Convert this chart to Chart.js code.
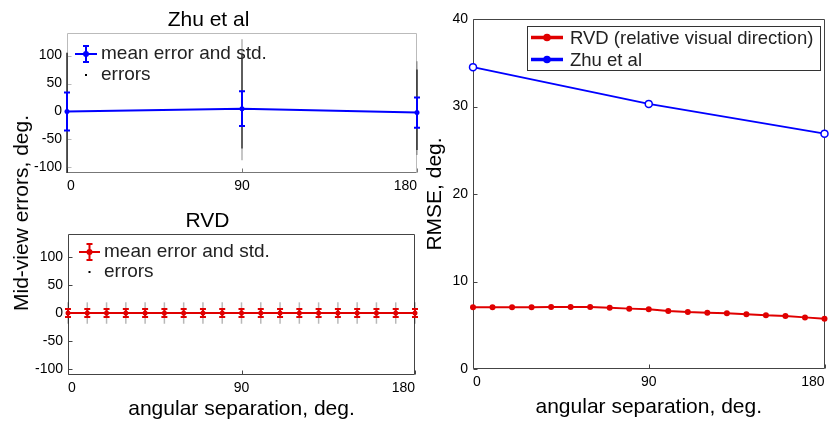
<!DOCTYPE html>
<html><head><meta charset="utf-8">
<script src="https://cdn.jsdelivr.net/npm/chart.js@4"></script>
<style>
html,body{margin:0;padding:0;background:#fff;width:830px;height:425px;overflow:hidden;position:relative;}
canvas{position:absolute;}
#ylab{position:absolute;left:21px;top:213px;transform:translate(-50%,-50%) rotate(-90deg);font:21px "Liberation Sans",Arial,sans-serif;white-space:nowrap;color:#000;}
</style></head><body>
<canvas id="c1" width="430" height="200" style="left:0;top:0"></canvas>
<canvas id="c2" width="430" height="225" style="left:0;top:200px"></canvas>
<canvas id="c3" width="410" height="425" style="left:420px;top:0"></canvas>
<div id="ylab">Mid-view errors, deg.</div>
<script>
// ---- tick labels ----
const errTicks = [-100, -50, 0, 50, 100];
const angleTicks = [0, 90, 180];
const rmseTicks = [0, 10, 20, 30, 40];

// ---- texts ----
const zhuTitle = 'Zhu et al';
const rvdTitle = 'RVD';
const errLegend = ['mean error and std.', 'errors'];
const rmseLegend = ['RVD (relative visual direction)', 'Zhu et al'];
const xTitle = 'angular separation, deg.';
const rmseTitle = 'RMSE, deg.';

// ---- Zhu et al: mid-view errors ----
const zhuAngles = [0, 90, 180];
const zhuMeanErr = [0, 5, -2];
const zhuStdErr = [34, 31, 27];
const zhuErrLow = [-110, -87, -78];
const zhuErrHigh = [105, 129, 90];
const zhuErrCoreLow = [-110, -66, -69];
const zhuErrCoreHigh = [105, 102, 75];

// ---- RVD: mid-view errors ----
const rvdAngles = [0, 10, 20, 30, 40, 50, 60, 70, 80, 90, 100, 110, 120, 130, 140, 150, 160, 170, 180];
const rvdMeanErr = [0, 0, 0, 0, 0, 0, 0, 0, 0, 0, 0, 0, 0, 0, 0, 0, 0, 0, 0];
const rvdStdErr = [7, 7, 7, 7, 7, 7, 7, 7, 7, 7, 7, 7, 7, 7, 7, 7, 7, 7, 7];
const rvdErrLow = [-19, -19, -19, -19, -19, -19, -19, -19, -19, -19, -19, -19, -19, -19, -19, -19, -19, -19, -19];
const rvdErrHigh = [19, 19, 19, 19, 19, 19, 19, 19, 19, 19, 19, 19, 19, 19, 19, 19, 19, 19, 19];

// ---- RMSE ----
const zhuRmse = [34.5, 30.3, 26.9];
const rvdRmse = [7.05, 7.05, 7.05, 7.05, 7.09, 7.09, 7.09, 7.01, 6.9, 6.82, 6.63, 6.51, 6.44, 6.36, 6.25, 6.13, 6.06, 5.9, 5.75];

const BLUE = '#0000ff';
const RED = '#e00000';
const FONT = '"Liberation Sans", Arial, Helvetica, sans-serif';
Chart.defaults.font.family = FONT;
Chart.defaults.color = '#000';

function setTicks(list) { return s => { s.ticks = list.map(v => ({ value: v })); }; }

function drawBox(chart, colors) {
  const { ctx, chartArea: a } = chart;
  const L = Math.round(a.left) + 0.5, R = Math.round(a.right) - 0.5, T = Math.round(a.top) + 0.5, B = Math.round(a.bottom) - 0.5;
  ctx.save();
  ctx.lineWidth = 1;
  const seg = (x1, y1, x2, y2, c) => { ctx.strokeStyle = c; ctx.beginPath(); ctx.moveTo(x1, y1); ctx.lineTo(x2, y2); ctx.stroke(); };
  seg(L, T, R, T, colors.top);
  seg(R, T, R, B, colors.right);
  seg(L, B, R, B, colors.bottom);
  seg(L, T, L, B, colors.left);
  // inward ticks
  const x = chart.scales.x, y = chart.scales.y;
  x.ticks.forEach(t => { const px = Math.round(x.getPixelForValue(t.value)) + 0.5; seg(px, B, px, B - 4, colors.bottom); });
  y.ticks.forEach(t => { const py = Math.round(y.getPixelForValue(t.value)) + 0.5; seg(L, py, L + 4, py, colors.left); });
  ctx.restore();
}

function errPlugin(o) {
  return {
    id: 'errDecor',
    beforeDatasetsDraw(chart) {
      drawBox(chart, o.box);
      const { ctx, scales: { x, y } } = chart;
      ctx.save();
      ctx.lineCap = 'butt';
      o.angles.forEach((a, i) => {
        const px = x.getPixelForValue(a);
        ctx.strokeStyle = o.errColor; ctx.lineWidth = o.errWidth;
        ctx.beginPath(); ctx.moveTo(px, y.getPixelForValue(o.errLow[i])); ctx.lineTo(px, y.getPixelForValue(o.errHigh[i])); ctx.stroke();
        if (o.coreLow) {
          ctx.strokeStyle = o.coreColor; ctx.lineWidth = o.errWidth;
          ctx.beginPath(); ctx.moveTo(px, y.getPixelForValue(o.coreLow[i])); ctx.lineTo(px, y.getPixelForValue(o.coreHigh[i])); ctx.stroke();
        }
      });
      ctx.restore();
    },
    afterDatasetsDraw(chart) {
      const { ctx, scales: { x, y } } = chart;
      ctx.save();
      ctx.strokeStyle = o.color; ctx.lineWidth = 2;
      o.angles.forEach((a, i) => {
        const px = x.getPixelForValue(a);
        const top = y.getPixelForValue(o.mean[i] + o.std[i]);
        const bot = y.getPixelForValue(o.mean[i] - o.std[i]);
        ctx.beginPath();
        ctx.moveTo(px, top); ctx.lineTo(px, bot);
        ctx.moveTo(px - o.cap, top); ctx.lineTo(px + o.cap, top);
        ctx.moveTo(px - o.cap, bot); ctx.lineTo(px + o.cap, bot);
        ctx.stroke();
      });
      ctx.restore();
    },
    afterDraw(chart) {
      const { ctx } = chart;
      const lg = o.leg;
      ctx.save();
      // row 1: mean error and std.
      ctx.strokeStyle = o.color; ctx.lineWidth = 2;
      ctx.beginPath(); ctx.moveTo(lg.x0, lg.y1); ctx.lineTo(lg.x1, lg.y1); ctx.stroke();
      const cx = (lg.x0 + lg.x1) / 2;
      ctx.beginPath();
      ctx.moveTo(cx, lg.y1 - 8); ctx.lineTo(cx, lg.y1 + 8);
      ctx.moveTo(cx - 3, lg.y1 - 8); ctx.lineTo(cx + 3, lg.y1 - 8);
      ctx.moveTo(cx - 3, lg.y1 + 8); ctx.lineTo(cx + 3, lg.y1 + 8);
      ctx.stroke();
      ctx.fillStyle = o.color;
      ctx.beginPath(); ctx.arc(cx, lg.y1, 3, 0, Math.PI * 2); ctx.fill();
      // row 2: errors
      ctx.fillStyle = '#000';
      ctx.fillRect(cx - 1, lg.y2 - 1, 2, 2);
      ctx.font = '19px ' + FONT;
      ctx.textBaseline = 'middle';
      ctx.fillStyle = '#222';
      ctx.fillText(errLegend[0], lg.tx, lg.y1);
      ctx.fillText(errLegend[1], lg.tx, lg.y2);
      ctx.restore();
    }
  };
}

function errChart(id, o) {
  return new Chart(document.getElementById(id), {
    type: 'line',
    data: {
      datasets: [{
        label: errLegend[0],
        data: o.angles.map((a, i) => ({ x: a, y: o.mean[i] })),
        borderColor: o.color, backgroundColor: o.color, borderWidth: 2,
        pointRadius: o.pointR, pointBorderWidth: 0, pointBackgroundColor: o.color,
        tension: 0, clip: false
      }]
    },
    options: {
      responsive: false, animation: false, devicePixelRatio: 1,
      layout: { padding: { left: 0, right: o.padRight, top: 0, bottom: 0 } },
      plugins: {
        legend: { display: false }, tooltip: { enabled: false },
        title: { display: true, text: o.title, color: '#000', font: { size: 21, weight: 'normal', family: FONT }, padding: { top: o.titleTop, bottom: 0 } }
      },
      scales: {
        x: {
          type: 'linear', min: 0, max: 180,
          afterBuildTicks: setTicks(angleTicks),
          afterFit: s => { s.height = o.xH; },
          grid: { display: false, drawTicks: false }, border: { display: false },
          ticks: { font: { size: 14 }, color: '#000', padding: 5, align: 'inner', maxRotation: 0, autoSkip: false },
          title: o.showX ? { display: true, text: xTitle, color: '#000', font: { size: 21 }, padding: { top: 0, bottom: 3 } } : { display: false }
        },
        y: {
          type: 'linear', min: -110, max: 140,
          afterBuildTicks: setTicks(errTicks),
          afterFit: s => { s.width = o.yW; },
          grid: { display: false, drawTicks: false }, border: { display: false },
          ticks: { font: { size: 14 }, color: '#000', padding: 5 }
        }
      }
    },
    plugins: [errPlugin(o)]
  });
}

errChart('c1', {
  title: zhuTitle, angles: zhuAngles, mean: zhuMeanErr, std: zhuStdErr,
  errLow: zhuErrLow, errHigh: zhuErrHigh, coreLow: zhuErrCoreLow, coreHigh: zhuErrCoreHigh,
  errColor: 'rgba(0,0,0,0.3)', coreColor: 'rgba(0,0,0,0.7)', errWidth: 1.5,
  color: BLUE, pointR: 2.5, cap: 3,
  padRight: 13, titleTop: 8, xH: 27, yW: 67, showX: false,
  box: { top: '#bbb', right: '#bbb', bottom: '#777', left: '#bbb' },
  leg: { x0: 75, x1: 97, y1: 54, y2: 75, tx: 101 }
});

errChart('c2', {
  title: rvdTitle, angles: rvdAngles, mean: rvdMeanErr, std: rvdStdErr,
  errLow: rvdErrLow, errHigh: rvdErrHigh, coreLow: null, coreHigh: null,
  errColor: 'rgba(0,0,0,0.28)', coreColor: null, errWidth: 1.5,
  color: RED, pointR: 2.5, cap: 3,
  padRight: 15, titleTop: 9, xH: 50, yW: 68, showX: true,
  box: { top: '#444', right: '#444', bottom: '#444', left: '#444' },
  leg: { x0: 79, x1: 100, y1: 52, y2: 72, tx: 104 }
});

const rmsePlugin = {
  id: 'rmseDecor',
  beforeDatasetsDraw(chart) {
    drawBox(chart, { top: '#444', right: '#444', bottom: '#444', left: '#444' });
  },
  afterDraw(chart) {
    const { ctx } = chart;
    ctx.save();
    ctx.strokeStyle = '#333'; ctx.lineWidth = 1;
    ctx.fillStyle = '#fff';
    ctx.fillRect(107, 26, 293, 44);
    ctx.strokeRect(107.5, 26.5, 293, 44);
    const rows = [37.5, 59.5];
    chart.data.datasets.forEach((d, i) => {
      ctx.strokeStyle = d.borderColor; ctx.lineWidth = 3.5;
      ctx.beginPath(); ctx.moveTo(111, rows[i]); ctx.lineTo(143, rows[i]); ctx.stroke();
      ctx.fillStyle = d.borderColor;
      ctx.beginPath(); ctx.arc(127, rows[i], 3.8, 0, Math.PI * 2); ctx.fill();
      ctx.fillStyle = '#222';
      ctx.font = '18.5px ' + FONT; ctx.textBaseline = 'middle';
      ctx.fillText(rmseLegend[i], 150, rows[i] + 1);
    });
    ctx.restore();
  }
};

new Chart(document.getElementById('c3'), {
  type: 'line',
  data: {
    datasets: [{
      label: rmseLegend[0],
      data: rvdAngles.map((a, i) => ({ x: a, y: rvdRmse[i] })),
      borderColor: RED, backgroundColor: RED, borderWidth: 2,
      pointRadius: 3, pointBorderWidth: 0, pointBackgroundColor: RED, tension: 0, clip: false
    }, {
      label: rmseLegend[1],
      data: zhuAngles.map((a, i) => ({ x: a, y: zhuRmse[i] })),
      borderColor: BLUE, backgroundColor: BLUE, borderWidth: 2,
      pointRadius: 3.5, pointBorderWidth: 1.5, pointBorderColor: BLUE, pointBackgroundColor: '#fff', tension: 0, clip: false
    }]
  },
  options: {
    responsive: false, animation: false, devicePixelRatio: 1,
    layout: { padding: { left: 0, right: 5, top: 19, bottom: 0 } },
    plugins: { legend: { display: false }, tooltip: { enabled: false } },
    scales: {
      x: {
        type: 'linear', min: 0, max: 180,
        afterBuildTicks: setTicks(angleTicks),
        afterFit: s => { s.height = 56; },
        grid: { display: false, drawTicks: false }, border: { display: false },
        ticks: { font: { size: 14 }, color: '#000', padding: 5, align: 'inner', maxRotation: 0, autoSkip: false },
        title: { display: true, text: xTitle, color: '#000', font: { size: 21 }, padding: { top: 0, bottom: 5 } }
      },
      y: {
        type: 'linear', min: 0, max: 40,
        afterBuildTicks: setTicks(rmseTicks),
        afterFit: s => { s.width = 53; },
        grid: { display: false, drawTicks: false }, border: { display: false },
        ticks: { font: { size: 14 }, color: '#000', padding: 5 },
        title: { display: true, text: rmseTitle, color: '#000', font: { size: 21 }, padding: { top: 3, bottom: 0 } }
      }
    }
  },
  plugins: [rmsePlugin]
});
</script>
</body></html>
